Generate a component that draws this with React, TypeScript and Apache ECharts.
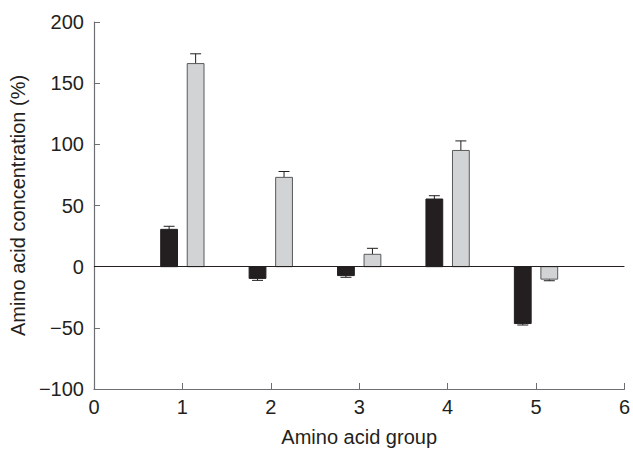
import React, { useEffect, useRef } from "react";
import * as echarts from "echarts";

const groups = [1, 2, 3, 4, 5];
const blackValues = [30.5, -9.6, -7.3, 55.3, -46.5];
const blackErrors = [2.5, 1.6, 1.4, 2.7, 1.2];
const grayValues = [166, 73, 10.1, 95, -10.2];
const grayErrors = [8, 4.8, 4.9, 7.8, 1.3];
const xTicks = [0, 1, 2, 3, 4, 5, 6];
const yTicks = [-100, -50, 0, 50, 100, 150, 200];

const FONT = "'Liberation Sans', Arial, Helvetica, sans-serif";
const TEXT = "#231f20";
const AXIS = "#6d6e71";

function makeRender(offset: number, fill: string, stroke: string) {
  return (params: any, api: any) => {
    const x = api.value(0) + offset;
    const y = api.value(1);
    const e = api.value(2);
    const sign = y >= 0 ? 1 : -1;
    const p0 = api.coord([x, 0]);
    const p1 = api.coord([x, y]);
    const pe = api.coord([x, y + sign * e]);
    const w = api.size([0.19, 0])[0];
    const capW = 11;
    return {
      type: "group",
      children: [
        {
          type: "line",
          shape: { x1: p1[0], y1: p1[1], x2: pe[0], y2: pe[1] },
          style: { stroke: TEXT, lineWidth: 1 },
        },
        {
          type: "line",
          shape: { x1: pe[0] - capW / 2, y1: pe[1], x2: pe[0] + capW / 2, y2: pe[1] },
          style: { stroke: TEXT, lineWidth: 1 },
        },
        {
          type: "rect",
          shape: {
            x: p0[0] - w / 2,
            y: Math.min(p0[1], p1[1]),
            width: w,
            height: Math.abs(p1[1] - p0[1]),
          },
          style: { fill, stroke, lineWidth: 1 },
        },
      ],
    };
  };
}

export default function App() {
  const ref = useRef<HTMLDivElement>(null);
  useEffect(() => {
    document.body.style.margin = "0";
    const chart = echarts.init(ref.current!, null, { renderer: "svg" });
    const fmt = (v: number) => (v < 0 ? "\u2212" + Math.abs(v) : String(v));
    chart.setOption({
      animation: false,
      backgroundColor: "#ffffff",
      grid: { left: 93, right: 6, top: 22, bottom: 56, containLabel: false },
      xAxis: {
        type: "value",
        min: xTicks[0],
        max: xTicks[xTicks.length - 1],
        interval: 1,
        name: "Amino acid group",
        nameLocation: "middle",
        nameGap: 38,
        nameTextStyle: { fontFamily: FONT, fontSize: 20, color: TEXT },
        axisLine: { show: true, onZero: false, lineStyle: { color: AXIS, width: 1.2 } },
        axisTick: { show: true, inside: true, length: 6, lineStyle: { color: AXIS } },
        axisLabel: { fontFamily: FONT, fontSize: 20, color: TEXT, margin: 8 },
        splitLine: { show: false },
      },
      yAxis: {
        type: "value",
        min: yTicks[0],
        max: yTicks[yTicks.length - 1],
        interval: 50,
        name: "Amino acid concentration (%)",
        nameLocation: "middle",
        nameGap: 60,
        nameTextStyle: { fontFamily: FONT, fontSize: 20, color: TEXT },
        axisLine: { show: true, lineStyle: { color: AXIS, width: 1.2 } },
        axisTick: { show: true, inside: true, length: 6, lineStyle: { color: AXIS } },
        axisLabel: { fontFamily: FONT, fontSize: 20, color: TEXT, margin: 10, formatter: fmt },
        splitLine: { show: false },
      },
      series: [
        {
          type: "custom",
          name: "black",
          renderItem: makeRender(-0.15, "#231f20", "#231f20"),
          data: groups.map((g, i) => [g, blackValues[i], blackErrors[i]]),
          encode: { x: 0, y: 1 },
          z: 3,
          markLine: {
            silent: true,
            symbol: "none",
            label: { show: false },
            lineStyle: { color: TEXT, width: 1, type: "solid" },
            data: [{ yAxis: 0 }],
          },
        },
        {
          type: "custom",
          name: "gray",
          renderItem: makeRender(0.15, "#d1d3d4", "#58595b"),
          data: groups.map((g, i) => [g, grayValues[i], grayErrors[i]]),
          encode: { x: 0, y: 1 },
          z: 3,
        },
      ],
    });
    return () => chart.dispose();
  }, []);
  return <div ref={ref} style={{ width: 633, height: 452 }} />;
}
